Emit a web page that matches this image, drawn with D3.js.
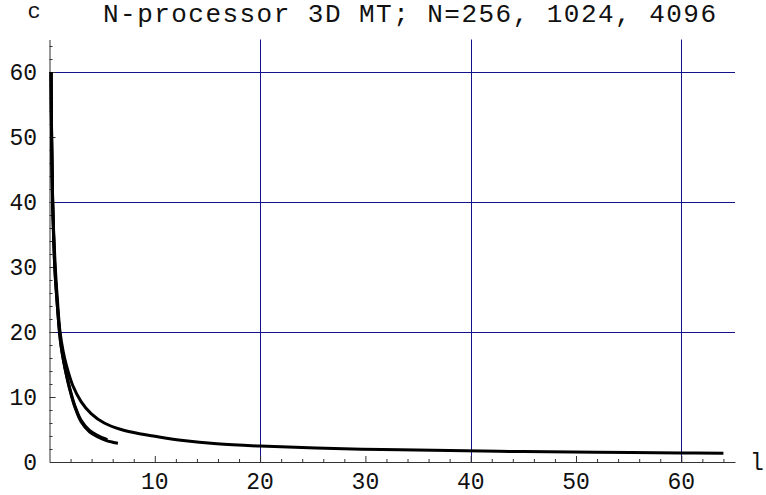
<!DOCTYPE html>
<html>
<head>
<meta charset="utf-8">
<script src="https://cdn.jsdelivr.net/npm/d3@7"></script>
<style>
  body { margin: 0; background: #fff; }
  text { font-family: "Liberation Mono", "DejaVu Sans Mono", monospace; fill: #111; }
</style>
</head>
<body>
<script>
let width = 766;
let height = 495;

// values
let lA = [0.15, 0.2, 0.3, 0.55, 0.75, 1.0, 1.3, 1.6, 2.2, 3.0, 3.95, 5.2, 6.8, 8.7, 10, 12.7, 15.9, 20, 25.3, 31.6, 38, 45, 52, 60, 64];
let cA = [60, 50, 40, 30, 25, 20, 17, 14.9, 11.8, 9.3, 7.45, 6.0, 5.0, 4.3, 3.95, 3.3, 2.8, 2.45, 2.15, 1.92, 1.76, 1.6, 1.5, 1.4, 1.35];
let lB = [0.15, 0.2, 0.3, 0.5, 0.7, 0.95, 1.12, 1.35, 1.6, 1.9, 2.4, 3.0, 3.8, 4.6, 5.4, 6.0, 6.5];
let cB = [60, 50, 40, 30, 25, 20, 17.6, 15.4, 13.4, 11.3, 8.5, 6.2, 4.65, 3.85, 3.3, 3.05, 2.9];
let lC = [0.15, 0.2, 0.3, 0.5, 0.7, 0.95, 1.12, 1.35, 1.6, 1.9, 2.4, 3.0, 3.8, 4.6, 5.0, 5.5];
let cC = [60, 50, 40, 30, 25, 20, 17.7, 15.5, 13.5, 11.5, 8.7, 6.4, 4.85, 4.05, 3.75, 3.45];

let xTicks = [10, 20, 30, 40, 50, 60];
let yTicks = [0, 10, 20, 30, 40, 50, 60];
let gridX = [20, 40, 60];
let gridY = [20, 40, 60];
let titleText = "N-processor 3D MT; N=256, 1024, 4096";

let x = d3.scaleLinear().domain([0, 65.1]).range([49.5, 735]);
let y = d3.scaleLinear().domain([0, 65]).range([462, 39.5]);

let svg = d3.select("body").append("svg")
    .attr("width", width)
    .attr("height", height);

// grid lines
let grid = svg.append("g").attr("stroke", "#12128a").attr("stroke-width", 1);
grid.selectAll("line.gx").data(gridX).enter().append("line")
    .attr("x1", d => Math.round(x(d)) + 0.5).attr("x2", d => Math.round(x(d)) + 0.5)
    .attr("y1", y.range()[1]).attr("y2", y(0));
grid.selectAll("line.gy").data(gridY).enter().append("line")
    .attr("x1", x(0)).attr("x2", x.range()[1])
    .attr("y1", d => Math.round(y(d)) + 0.5).attr("y2", d => Math.round(y(d)) + 0.5);

// axes, ticks pointing into the plot
let xAxis = d3.axisTop(x)
    .tickValues(d3.range(2, 65, 2))
    .tickSizeInner(3).tickSizeOuter(0)
    .tickFormat("");
let gx = svg.append("g").attr("transform", `translate(0,${y(0)})`).call(xAxis);
gx.selectAll(".tick line").attr("y2", d => d % 10 === 0 ? -6 : -3);

let yAxis = d3.axisRight(y)
    .tickValues(d3.range(2, 65, 2))
    .tickSizeInner(3).tickSizeOuter(0)
    .tickFormat("");
let gy = svg.append("g").attr("transform", `translate(${x(0)},0)`).call(yAxis);
gy.selectAll(".tick line").attr("x2", d => d % 10 === 0 ? 6 : 3);

svg.selectAll(".domain, .tick line").attr("stroke", "#333").attr("stroke-width", 1);

// tick labels
svg.append("g").selectAll("text").data(xTicks).enter().append("text")
    .attr("x", d => x(d)).attr("y", 489)
    .attr("text-anchor", "middle")
    .style("font-size", "23px")
    .text(d => d);
svg.append("g").selectAll("text").data(yTicks).enter().append("text")
    .attr("x", 37).attr("y", d => y(d) + 8)
    .attr("text-anchor", "end")
    .style("font-size", "23px")
    .text(d => d);

// axis labels + title
svg.append("text").attr("x", 34).attr("y", 18).attr("text-anchor", "middle")
    .style("font-size", "22px").text("c");
svg.append("text").attr("x", 757).attr("y", 470).attr("text-anchor", "middle")
    .style("font-size", "23px").text("l");
svg.append("text").attr("x", 103).attr("y", 22)
    .attr("textLength", 613)
    .style("font-size", "26px").text(titleText);

// curves
let line = d3.line()
    .x(d => x(d[0]))
    .y(d => y(d[1]))
    .curve(d3.curveCatmullRom.alpha(0.5));

let series = [d3.zip(lA, cA), d3.zip(lB, cB), d3.zip(lC, cC)];
svg.append("g").selectAll("path").data(series).enter().append("path")
    .attr("d", line)
    .attr("fill", "none")
    .attr("stroke", "#000")
    .attr("stroke-width", 3);
</script>
</body>
</html>
